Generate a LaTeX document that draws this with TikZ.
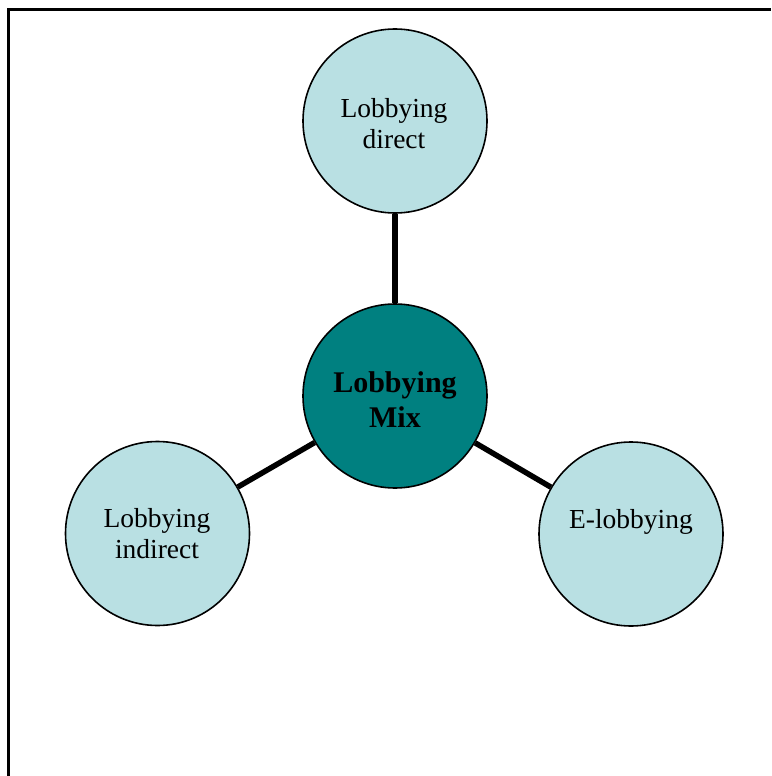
\documentclass[tikz,border=0pt]{standalone}
\usepackage{fontspec}
\setmainfont{Liberation Serif}
\definecolor{paleteal}{RGB}{185,224,227}
\definecolor{teal80}{RGB}{0,128,128}
\tikzset{
  outer/.style={circle,draw=black,line width=1.6pt,fill=paleteal,minimum size=184pt,inner sep=0pt},
  hub/.style={circle,draw=black,line width=1.6pt,fill=teal80,minimum size=184pt,inner sep=0pt},
  txt/.style={align=center,inner sep=0pt,anchor=base,font=\fontsize{27.5}{31}\selectfont},
  hubtxt/.style={align=center,inner sep=0pt,anchor=base,font=\fontsize{30}{35}\selectfont\bfseries},
  link/.style={line width=5.5pt,black},
  frame/.style={line width=3pt,black}
}
\begin{document}
\begin{tikzpicture}[x=1pt,y=-1pt]
\useasboundingbox (0,0) rectangle (771,776);
\draw[frame] (8.5,776) -- (8.5,10) -- (771,10);
\node[outer] (direct) at (395,121) {};
\node[hub] (mix) at (395,396) {};
\node[outer] (indirect) at (157.5,533.5) {};
\node[outer] (elob) at (631,534) {};
\draw[link] (direct) -- (mix);
\draw[link] (mix) -- (indirect);
\draw[link] (mix) -- (elob);
\node[txt] (directT) at (394,148) {Lobbying\\direct};
\node[hubtxt] (mixT) at (395,427) {Lobbying\\Mix};
\node[txt] (indirectT) at (157,558) {Lobbying\\indirect};
\node[txt] (elobT) at (631,528) {E-lobbying};
\end{tikzpicture}
\end{document}
